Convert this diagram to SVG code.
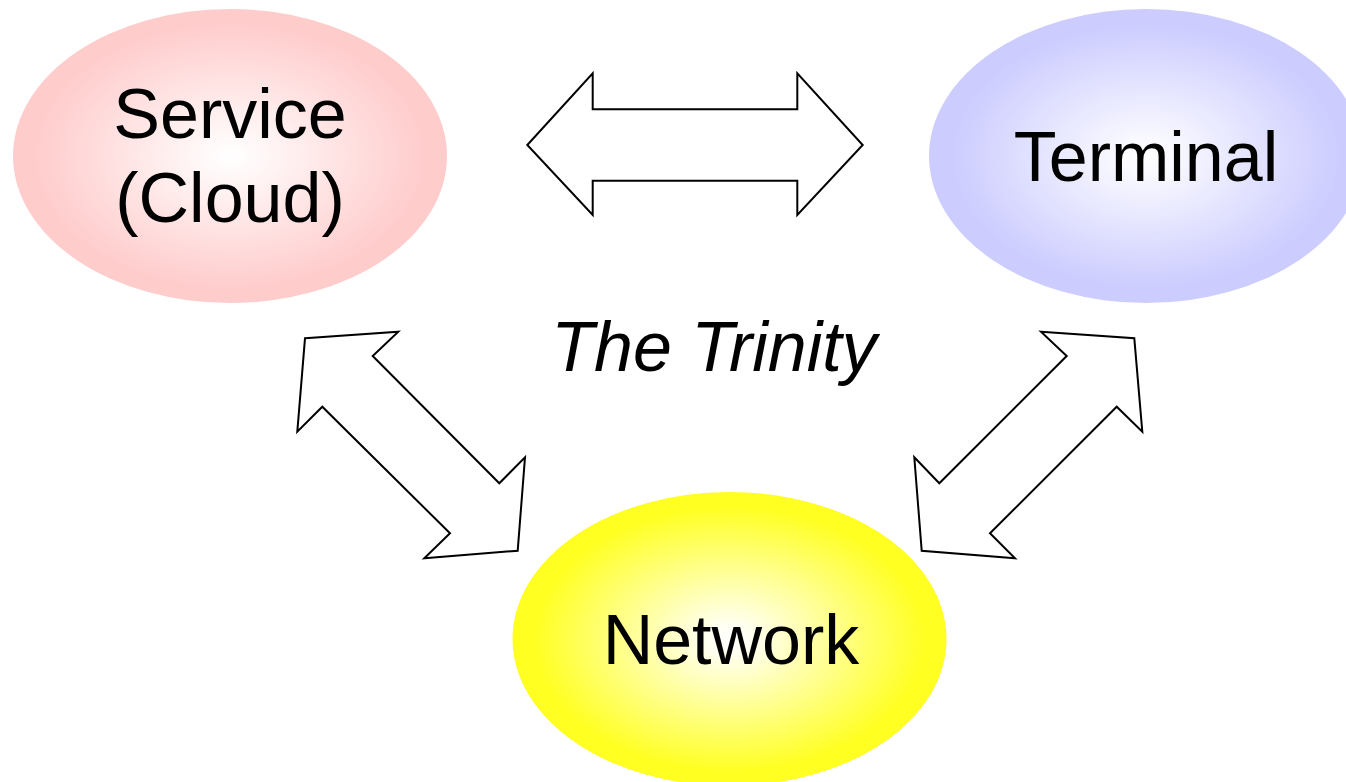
<svg xmlns="http://www.w3.org/2000/svg" width="1346" height="782" viewBox="0 0 1346 782">
<style>
.lbl{font-family:"Liberation Sans",Arial,sans-serif;font-size:70px;fill:#000;text-anchor:middle}
.ital{font-style:italic}
.arrow{fill:#fff;stroke:#000;stroke-width:2;stroke-linejoin:miter}
</style>
<defs>
<radialGradient id="gPink" cx="50%" cy="50%" r="50%">
<stop offset="0" stop-color="#ffffff"/>
<stop offset="0.1" stop-color="#fffafa"/>
<stop offset="0.9" stop-color="#ffcccc"/>
<stop offset="1" stop-color="#ffcccc"/>
</radialGradient>
<radialGradient id="gBlue" cx="50%" cy="50%" r="50%">
<stop offset="0" stop-color="#ffffff"/>
<stop offset="0.1" stop-color="#fafaff"/>
<stop offset="0.9" stop-color="#ccccff"/>
<stop offset="1" stop-color="#ccccff"/>
</radialGradient>
<radialGradient id="gYellow" cx="50%" cy="50%" r="50%">
<stop offset="0" stop-color="#ffffff"/>
<stop offset="0.1" stop-color="#fffff2"/>
<stop offset="0.9" stop-color="#ffff22"/>
<stop offset="1" stop-color="#ffff22"/>
</radialGradient>
</defs>
<rect width="1346" height="782" fill="#fff"/>
<g id="service">
<ellipse cx="230" cy="156" rx="217" ry="147" fill="url(#gPink)"/>
<text class="lbl" x="230" y="138">Service</text>
<text class="lbl" x="230" y="222">(Cloud)</text>
</g>
<g id="terminal">
<ellipse cx="1146" cy="156" rx="217" ry="147" fill="url(#gBlue)"/>
<text class="lbl" x="1146" y="181">Terminal</text>
</g>
<g id="network">
<ellipse cx="729.5" cy="639" rx="217" ry="147" fill="url(#gYellow)"/>
<text class="lbl" x="731" y="664">Network</text>
</g>
<g id="title">
<text class="lbl ital" x="714" y="371">The Trinity</text>
</g>
<g id="connectors">
<polygon class="arrow" points="527.3,145 592.7,73.3 592.7,109.3 797.3,109.3 797.3,73.3 862.7,145 797.3,215 797.3,180.7 592.7,180.7 592.7,215"/>
<polygon class="arrow" points="305,338.3 398.3,331.7 372.7,356 499.3,483.3 525,457.3 517.7,550.7 424.3,558.3 450,533.3 322.3,406.7 297.3,431.7"/>
<polygon class="arrow" points="1041,331.7 1134.3,338.3 1142.3,431.7 1116.7,406.7 990,533.3 1015,558.3 921.7,550.7 914.3,457.3 939.3,483.3 1066.7,356"/>
</g>
</svg>
